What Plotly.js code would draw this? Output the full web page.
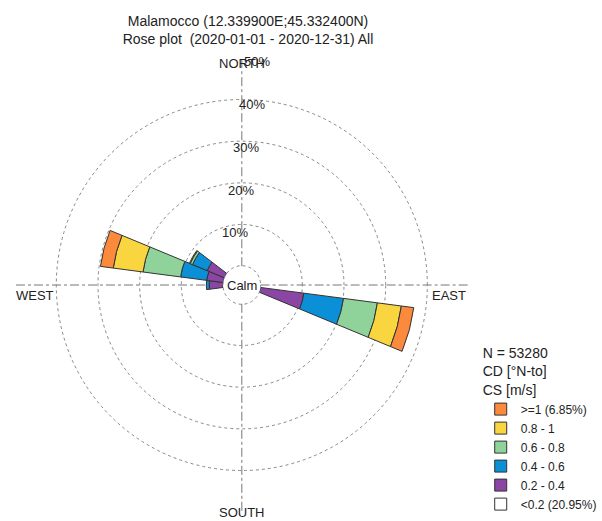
<!DOCTYPE html>
<html>
<head>
<meta charset="utf-8">
<script src="https://cdn.plot.ly/plotly-3.0.1.min.js"></script>
<style>html,body{margin:0;padding:0;background:#fff}#chart{width:602px;height:521px}</style>
</head>
<body>
<div id="chart"></div>
<script>
// Direction sectors (degrees, "to" convention, 15° bins) that carry data
const directions = [105, 270, 285, 300];
// Percent of records per speed class and direction
const cs_02_04 = [10.5, 3.3, 4.0, 4.5];
const cs_04_06 = [9.6, 0.7, 6.3, 3.8];
const cs_06_08 = [8.2, null, 9.1, 0.6];
const cs_08_1  = [5.8, null, 7.2, 0.2];
const cs_ge1   = [3.0, null, 3.1, null];
const calmPct = 20.95;
const classNames = ['<0.2 (' + calmPct.toFixed(2) + '%)', '0.2 - 0.4', '0.4 - 0.6', '0.6 - 0.8', '0.8 - 1', '>=1 (6.85%)'];
const classColors = ['#ffffff', '#8b45a3', '#0b8fd6', '#8fd39b', '#f9d640', '#fb8a3c'];
const radialTicks = [10, 20, 30, 40, 50];
const radialTickText = ['10%', '20%', '30%', '40%', '50%'];
const compassLabels = ['NORTH', 'EAST', 'SOUTH', 'WEST'];
const nRecords = 53280;

const W = 602, H = 521;
const cx = 248, cy = 285, R = 233, holePx = 19.3, rMax = 50;
const font = 'Liberation Sans, Arial, sans-serif';

// calm class: legend-only entry (calm is the centre circle)
const series = [[null], cs_02_04, cs_04_06, cs_06_08, cs_08_1, cs_ge1];
const traces = series.map((vals, i) => ({
  type: 'barpolar',
  r: vals,
  theta: i === 0 ? [0] : directions,
  width: 15,
  name: classNames[i],
  marker: {color: classColors[i], line: {color: '#333', width: 1}},
  hoverinfo: 'skip'
}));

const base = {xref: 'paper', yref: 'paper', showarrow: false, font: {family: font, size: 13, color: '#222'}};
const annotations = [
  {text: compassLabels[0], x: cx / W, y: 1 - 64 / H, xanchor: 'center', yanchor: 'middle'},
  {text: compassLabels[1], x: 480 / W, y: 1 - 295 / H, xanchor: 'right', yanchor: 'middle'},
  {text: compassLabels[2], x: cx / W, y: 1 - 512 / H, xanchor: 'center', yanchor: 'middle'},
  {text: compassLabels[3], x: 14 / W, y: 1 - 295 / H, xanchor: 'left', yanchor: 'middle'},
  {text: 'Calm', x: cx / W, y: 1 - cy / H, xanchor: 'center', yanchor: 'middle'}
].map(a => Object.assign({}, base, a));
// radial percentage labels just inside each ring, along north
radialTicks.forEach((v, i) => {
  const rpx = holePx + v / rMax * (R - holePx);
  annotations.push(Object.assign({}, base, {
    text: radialTickText[i], x: (cx - 7 + 5.7 * i) / W, y: 1 - (cy - rpx + 10) / H,
    xanchor: 'center', yanchor: 'middle'
  }));
});

const layout = {
  width: W, height: H,
  margin: {l: 0, r: 0, t: 0, b: 0},
  paper_bgcolor: '#fff',
  font: {family: font, size: 13, color: '#222'},
  title: {
    text: 'Malamocco (12.339900E;45.332400N)<br>Rose plot\u00a0 (2020-01-01 - 2020-12-31) All',
    x: cx / W, xanchor: 'center', y: 1 - 26 / H, yanchor: 'top',
    font: {family: font, size: 14, color: '#222'}
  },
  polar: {
    domain: {x: [(cx - R) / W, (cx + R) / W], y: [1 - (cy + R) / H, 1 - (cy - R) / H]},
    hole: holePx / R,
    bgcolor: '#fff',
    barmode: 'stack',
    bargap: 0,
    radialaxis: {
      range: [0, rMax], tickvals: radialTicks, showticklabels: false,
      angle: 90, showline: false, ticks: '',
      gridcolor: '#888', griddash: 'dot', gridwidth: 1
    },
    angularaxis: {
      rotation: 90, direction: 'clockwise',
      tickvals: [0, 90, 180, 270], showticklabels: false, ticks: '',
      showline: false, gridcolor: '#777', griddash: 'dashdot', gridwidth: 1
    }
  },
  shapes: [{
    type: 'circle', xref: 'paper', yref: 'paper',
    x0: (cx - holePx) / W, x1: (cx + holePx) / W,
    y0: 1 - (cy + holePx) / H, y1: 1 - (cy - holePx) / H,
    line: {color: '#888', width: 1, dash: 'dot'}, fillcolor: 'rgba(0,0,0,0)'
  }],
  annotations: annotations,
  showlegend: true,
  legend: {
    x: 493 / W, xanchor: 'left', y: 1 - 340 / H, yanchor: 'top',
    traceorder: 'reversed',
    title: {text: 'N = ' + nRecords + '<br>CD [\u00b0N-to]<br>CS [m/s]', side: 'top', font: {family: font, size: 14, color: '#222'}},
    font: {family: font, size: 12, color: '#222'},
    bgcolor: 'rgba(0,0,0,0)', itemwidth: 30, tracegroupgap: 0
  }
};

Plotly.newPlot('chart', traces, layout, {displayModeBar: false, staticPlot: true});
</script>
</body>
</html>
